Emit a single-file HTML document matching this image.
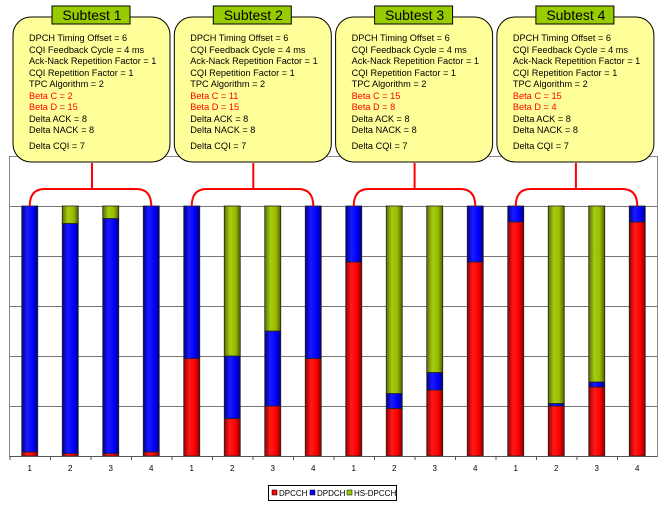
<!DOCTYPE html>
<html><head><meta charset="utf-8"><style>
body{margin:0;background:#fff;}
svg{display:block;font-family:"Liberation Sans",Arial,sans-serif;}
</style></head><body>
<svg id="c" width="664" height="505" viewBox="0 0 664 505">
<defs>
<linearGradient id="gr" x1="0" x2="1"><stop offset="0" stop-color="#900"/><stop offset="0.35" stop-color="#ff1a1a"/><stop offset="0.7" stop-color="#f00"/><stop offset="1" stop-color="#800"/></linearGradient>
<linearGradient id="gb" x1="0" x2="1"><stop offset="0" stop-color="#000090"/><stop offset="0.35" stop-color="#1a1aff"/><stop offset="0.7" stop-color="#00f"/><stop offset="1" stop-color="#000080"/></linearGradient>
<linearGradient id="gg" x1="0" x2="1"><stop offset="0" stop-color="#5a7000"/><stop offset="0.35" stop-color="#a6cc10"/><stop offset="0.7" stop-color="#99bb00"/><stop offset="1" stop-color="#506000"/></linearGradient>
</defs>
<rect x="9.5" y="156.5" width="648" height="300" fill="#fff" stroke="#888"/>
<g id="grid"></g><g id="bars"></g><g id="xaxis"></g><g id="boxes"></g>
<g>
<rect x="268.5" y="485.5" width="128" height="15" fill="#fff" stroke="#000"/>
<rect x="272" y="490" width="5" height="5" fill="#f00" stroke="#000" stroke-width="0.5"/><text x="279" y="496" font-size="8">DPCCH</text>
<rect x="310" y="490" width="5" height="5" fill="#00f" stroke="#000" stroke-width="0.5"/><text x="317" y="496" font-size="8">DPDCH</text>
<rect x="347" y="490" width="5" height="5" fill="#9c0" stroke="#000" stroke-width="0.5"/><text x="354" y="496" font-size="8">HS-DPCCH</text>
</g>
</svg>
<script>
const categories=["1","2","3","4","1","2","3","4","1","2","3","4","1","2","3","4"];
const dpcch=[1.6,1,1,1.6,39,15,20,39,77.6,19,26.4,77.6,93.6,20,27.6,93.6];
const dpdch=[98.4,92,94,98.4,61,25,30,61,22.4,6,7,22.4,6.4,1,2,6.4];
const hsdpcch=[0,7,5,0,0,60,50,0,0,75,66.6,0,0,79,70.4,0];
const yTicks=[0,20,40,60,80,100];
const subtests=["Subtest 1","Subtest 2","Subtest 3","Subtest 4"];
const betaC=["2","11","15","15"];
const betaD=["15","15","8","4"];
const NS="http://www.w3.org/2000/svg";
const x0=9.5,cw=40.5,yb=456,ph=250;
const xc=i=>x0+cw*i+cw/2;
const y=v=>yb-v/100*ph;
function mk(t,a,p){const e=document.createElementNS(NS,t);for(const k in a)e.setAttribute(k,a[k]);p.appendChild(e);return e;}
const grid=document.getElementById('grid');
yTicks.forEach(t=>{if(t===0)return;const l=mk('line',{x1:x0,x2:657.5,y1:y(t)+.5,y2:y(t)+.5,stroke:'#777'},grid);

});
const bars=document.getElementById('bars');
categories.forEach((c,i)=>{let b=0;[[dpcch,'url(#gr)','dpcch'],[dpdch,'url(#gb)','dpdch'],[hsdpcch,'url(#gg)','hs-dpcch']].forEach(([arr,f,n])=>{const v=arr[i];if(v<=0)return;
const r=mk('rect',{x:xc(i)-8,y:y(b+v),width:16,height:y(b)-y(b+v),fill:f,stroke:'#222','stroke-width':0.8},bars);

b+=v;});});
const xa=document.getElementById('xaxis');
mk('line',{x1:x0,x2:657.5,y1:456.5,y2:456.5,stroke:'#555'},xa);
categories.forEach((c,i)=>{mk('line',{x1:x0+cw*i+.5,x2:x0+cw*i+.5,y1:456,y2:460,stroke:'#555'},xa);
const t=mk('text',{x:xc(i),y:471,'font-size':8,'text-anchor':'middle'},xa);t.textContent=c;

});
const bx=document.getElementById('boxes');
subtests.forEach((s,k)=>{const g=mk('g',{},bx);


const L=13+k*161.3;
mk('rect',{x:L,y:17,width:157,height:145,rx:18,fill:'#ffff99',stroke:'#000','stroke-width':1},g);
const cx=L+79;
const a=xc(k*4),bb=xc(k*4+3);
mk('path',{d:`M${cx} 163 V189 M${a} 206 Q${a} 189 ${a+15} 189 H${bb-15} Q${bb} 189 ${bb} 206`,fill:'none',stroke:'#f00','stroke-width':2},g);
mk('rect',{x:L+39,y:6,width:78,height:18,fill:'#99cc00',stroke:'#000'},g);
const tt=mk('text',{x:cx,y:20,'font-size':14,'text-anchor':'middle'},g);tt.textContent=s;
const lines=[["DPCH Timing Offset = 6",38],["CQI Feedback Cycle = 4 ms",50],["Ack-Nack Repetition Factor = 1",61],["CQI Repetition Factor = 1",73],["TPC Algorithm = 2",84],["Beta C = "+betaC[k],96,1],["Beta D = "+betaD[k],107,1],["Delta ACK = 8",119],["Delta NACK = 8",130],["Delta CQI = 7",146]];
lines.forEach(([txt,yy,red])=>{const e=mk('text',{x:L+16,y:yy+3,'font-size':9.2,fill:red?'#f00':'#000'},g);e.textContent=txt;});
});
</script>
</body></html>
